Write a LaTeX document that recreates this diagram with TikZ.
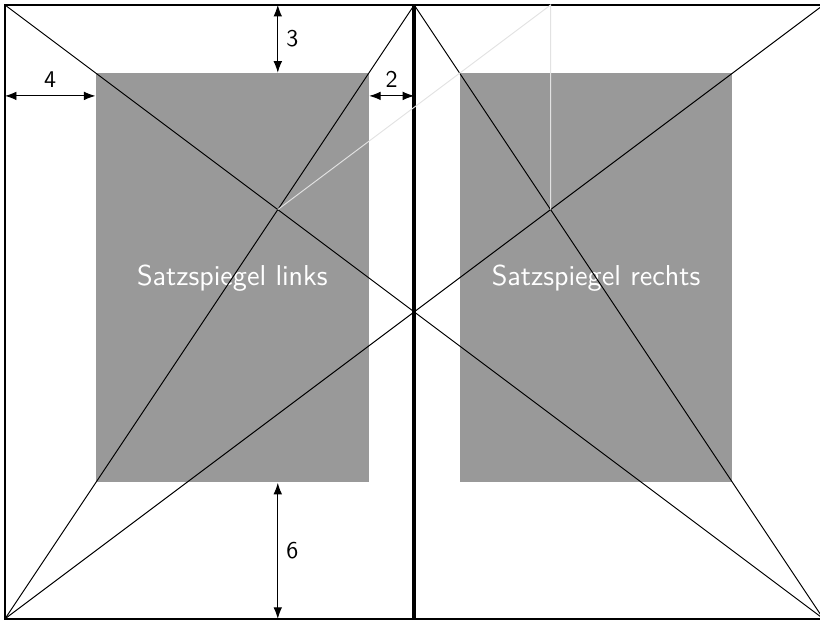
\documentclass[tikz,border=0pt]{standalone}
\usepackage{tikz}
\usetikzlibrary{arrows.meta,calc}
\definecolor{satzgrau}{RGB}{153,153,153}
\definecolor{hilfsgrau}{RGB}{226,226,226}

\begin{document}
\begin{tikzpicture}[>=Latex,
    satz/.style={fill=satzgrau,inner sep=0pt,text=white,font=\sffamily\large,
      minimum width=4cm,minimum height=6cm},
    masz/.style={<->,thin},
    rand/.style={line width=0.8pt}]
  \useasboundingbox (-0.073,-0.017) rectangle (11.95,9.073);
  % Ecken der Doppelseite
  \coordinate (LU) at (0,0);
  \coordinate (LO) at (0,9);
  \coordinate (MU) at (6,0);
  \coordinate (MO) at (6,9);
  \coordinate (RU) at (12,0);
  \coordinate (RO) at (12,9);
  % Satzspiegel
  \node[satz] (SL) at (3.3333,5) {Satzspiegel links};
  \node[satz] (SR) at (8.6667,5) {Satzspiegel rechts};
  % Seiten
  \draw[rand] (LU) rectangle (MO);
  \draw[rand] (MU) rectangle (RO);
  \draw[line width=1.8pt] (MU) -- (MO);
  % Diagonalen
  \draw (LO) -- (RU);
  \draw (LU) -- (RO);
  \draw (LU) -- (MO);
  \draw (MO) -- (RU);
  % Hilfslinien
  \coordinate (KL) at (4,6);
  \coordinate (KR) at (8,6);
  \coordinate (KO) at (8,9);
  \draw[hilfsgrau] (KL) -- (KO) -- (KR);
  % Randmasse
  \coordinate (m4) at (0,7.6667);
  \coordinate (m2) at (6,7.6667);
  \coordinate (m3) at (4,9);
  \coordinate (m6) at (4,0);
  \draw[masz] (m4) -- (m4 -| SL.west) node[midway,above] {\sffamily 4};
  \draw[masz] (m2 -| SL.east) -- (m2) node[midway,above] {\sffamily 2};
  \draw[masz] (m3) -- (m3 |- SL.north) node[midway,right] {\sffamily 3};
  \draw[masz] (m6 |- SL.south) -- (m6) node[midway,right] {\sffamily 6};
\end{tikzpicture}
\end{document}
